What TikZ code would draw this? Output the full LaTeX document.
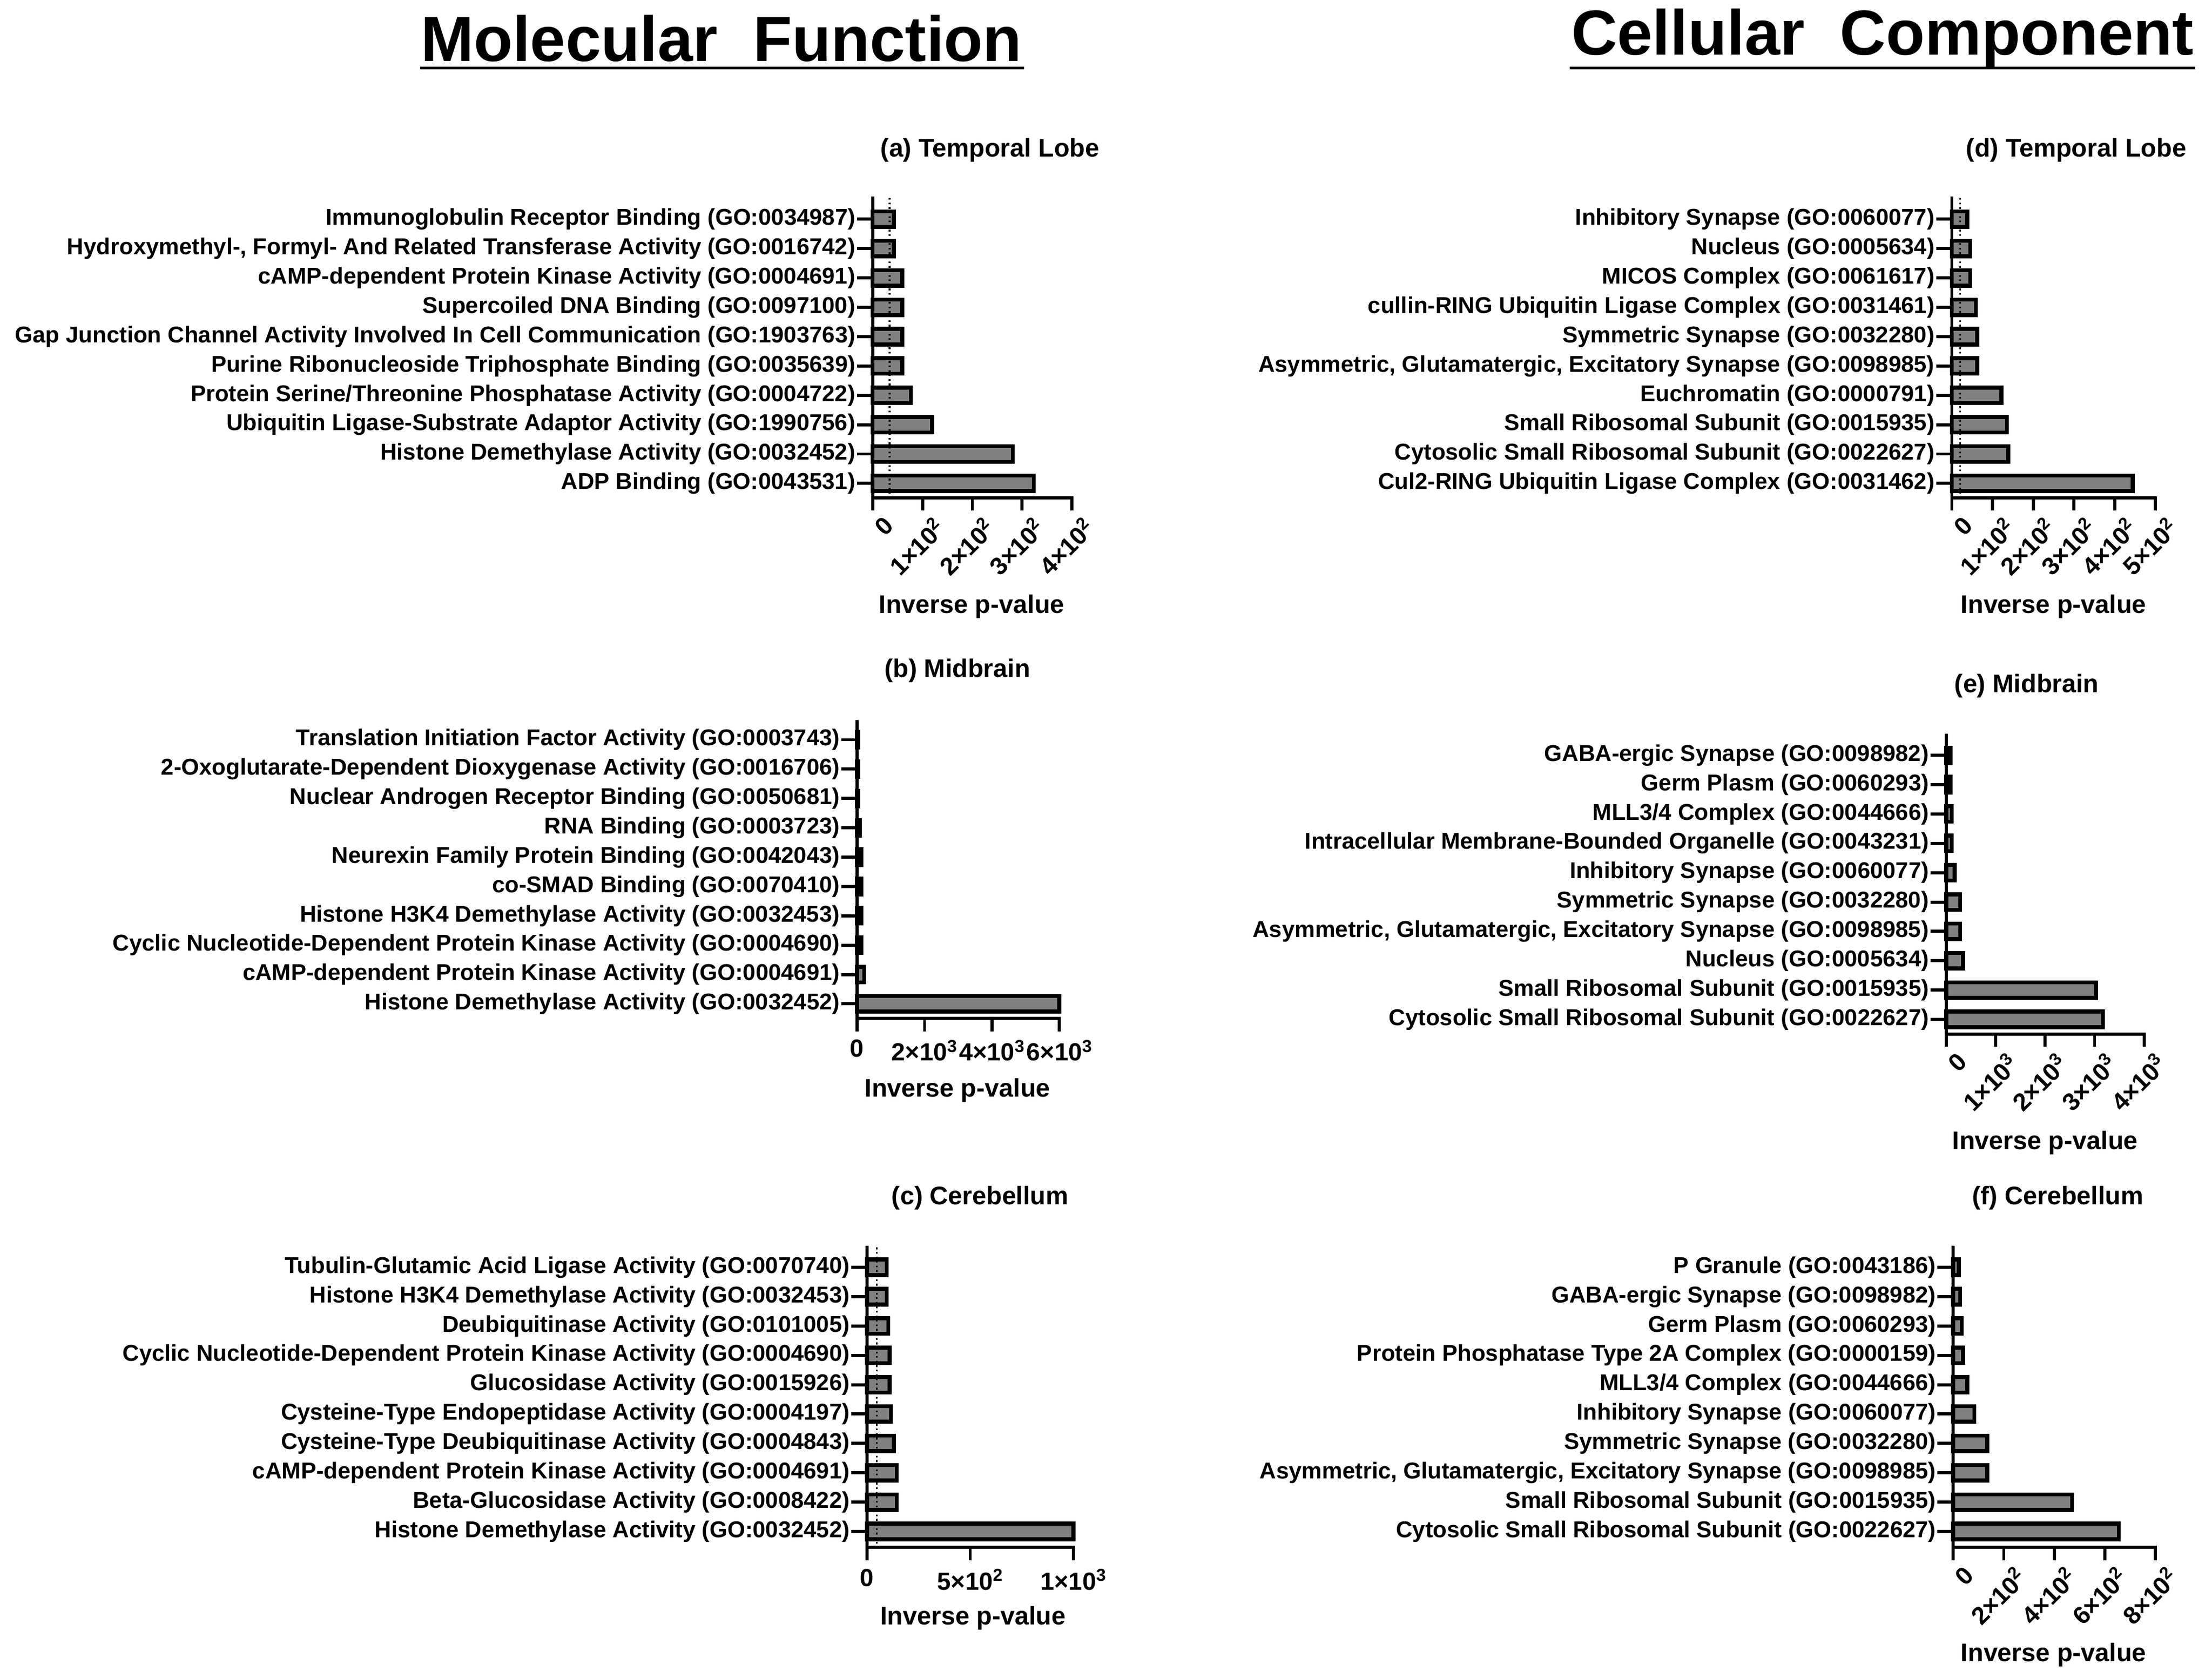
\documentclass[tikz,border=0pt]{standalone}
\usepackage{fontspec}
\setmainfont{Liberation Sans}
\begin{document}
\begin{tikzpicture}[x=1pt,y=-1pt,
 bar/.style={draw=black,line width=2.8pt,fill=black!50},
 ax/.style={line width=2.2pt,line cap=rect},
 lab/.style={font=\bfseries\fontsize{16.2}{18}\selectfont,anchor=east,inner sep=0pt},
 tl/.style={font=\bfseries\fontsize{17.5}{18}\selectfont,inner sep=0pt},
 ttl/.style={font=\bfseries\fontsize{18}{19}\selectfont,inner sep=0pt},
 big/.style={font=\bfseries\fontsize{45}{48}\selectfont,inner sep=0pt}]
\useasboundingbox (0,0) rectangle (1564,1186);
\newcommand\hbars[4]{%
 \foreach \e/\t [count=\i from 0] in {#4} {
   \pgfmathsetmacro\yy{#3+20.75*\i}
   \draw[bar] (#2,\yy-5.5) rectangle (\e,\yy+5.5);
   \draw[ax] (#2-10,\yy) -- (#2,\yy);
   \node[lab] (#1-l\i) at (#2-12,\yy) {\t};
 }}
\newcommand\xax[7]{%
 \foreach \t [count=\i from 0] in {#6} {\pgfmathsetmacro\xl{#2+#3*\i}\xdef\xlast{\xl}
   \draw[ax] (\xl,#4) -- (\xl,#4+8);
   \ifnum#7=1
    \node[tl,rotate=45,anchor=north east] (#1-t\i) at (\xl+7,#4+12) {\t};
   \else
    \node[tl,anchor=north] (#1-t\i) at (\xl,#4+15) {\t};
   \fi}
 \draw[ax] (#2,#5) -- (#2,#4+8);
 \draw[ax] (#2,#4) -- (\xlast,#4);}
\newcommand\ee[1]{\texttimes10\textsuperscript{#1}}
\node[big] (mf) at (510,27) {Molecular\ \ Function};
\draw[line width=2pt] (297,48) -- (724,48);
\node[big] (cc) at (1331,27) {Cellular\ \ Component};
\draw[line width=2pt] (1110,48) -- (1552,48);
% (a)
\node[ttl] (ta) at (700,106) {(a) Temporal Lobe};
\hbars{a}{617}{155}{632/{Immunoglobulin Receptor Binding (GO:0034987)},632/{Hydroxymethyl-, Formyl- And Related Transferase Activity (GO:0016742)},638/{cAMP-dependent Protein Kinase Activity (GO:0004691)},638/{Supercoiled DNA Binding (GO:0097100)},638/{Gap Junction Channel Activity Involved In Cell Communication (GO:1903763)},638/{Purine Ribonucleoside Triphosphate Binding (GO:0035639)},644/{Protein Serine/Threonine Phosphatase Activity (GO:0004722)},659/{Ubiquitin Ligase-Substrate Adaptor Activity (GO:1990756)},716/{Histone Demethylase Activity (GO:0032452)},731/{ADP Binding (GO:0043531)}}
\draw[dotted,line width=1.2pt] (629,140) -- (629,352);
\xax{a}{617}{35.25}{352}{140}{0,1\ee2,2\ee2,3\ee2,4\ee2}{1}
\node[ttl] (xa) at (687,429) {Inverse p-value};
% (b)
\node[ttl] (tb) at (677,474) {(b) Midbrain};
\hbars{b}{606}{523}{607/{Translation Initiation Factor Activity (GO:0003743)},607/{2-Oxoglutarate-Dependent Dioxygenase Activity (GO:0016706)},607/{Nuclear Androgen Receptor Binding (GO:0050681)},608/{RNA Binding (GO:0003723)},609/{Neurexin Family Protein Binding (GO:0042043)},609/{co-SMAD Binding (GO:0070410)},609/{Histone H3K4 Demethylase Activity (GO:0032453)},609/{Cyclic Nucleotide-Dependent Protein Kinase Activity (GO:0004690)},611/{cAMP-dependent Protein Kinase Activity (GO:0004691)},749/{Histone Demethylase Activity (GO:0032452)}}
\xax{b}{606}{47.7}{720}{510}{0,2\ee3,4\ee3,6\ee3}{0}
\node[ttl] (xb) at (677,771) {Inverse p-value};
% (c)
\node[ttl] (tc) at (693,847) {(c) Cerebellum};
\hbars{c}{613}{896}{627/{Tubulin-Glutamic Acid Ligase Activity (GO:0070740)},627/{Histone H3K4 Demethylase Activity (GO:0032453)},628/{Deubiquitinase Activity (GO:0101005)},629/{Cyclic Nucleotide-Dependent Protein Kinase Activity (GO:0004690)},629/{Glucosidase Activity (GO:0015926)},630/{Cysteine-Type Endopeptidase Activity (GO:0004197)},632/{Cysteine-Type Deubiquitinase Activity (GO:0004843)},634/{cAMP-dependent Protein Kinase Activity (GO:0004691)},634/{Beta-Glucosidase Activity (GO:0008422)},759/{Histone Demethylase Activity (GO:0032452)}}
\draw[dotted,line width=1.2pt] (620,882) -- (620,1094);
\xax{c}{613}{73}{1094}{882}{0,5\ee2,1\ee3}{0}
\node[ttl] (xc) at (688,1144) {Inverse p-value};
% (d)
\node[ttl] (td) at (1468,106) {(d) Temporal Lobe};
\hbars{d}{1380}{155}{1391/{Inhibitory Synapse (GO:0060077)},1393/{Nucleus (GO:0005634)},1393/{MICOS Complex (GO:0061617)},1397/{cullin-RING Ubiquitin Ligase Complex (GO:0031461)},1398/{Symmetric Synapse (GO:0032280)},1398/{Asymmetric, Glutamatergic, Excitatory Synapse (GO:0098985)},1415/{Euchromatin (GO:0000791)},1419/{Small Ribosomal Subunit (GO:0015935)},1420/{Cytosolic Small Ribosomal Subunit (GO:0022627)},1508/{Cul2-RING Ubiquitin Ligase Complex (GO:0031462)}}
\draw[dotted,line width=1.2pt] (1386,140) -- (1386,352);
\xax{d}{1380}{28.8}{352}{140}{0,1\ee2,2\ee2,3\ee2,4\ee2,5\ee2}{1}
\node[ttl] (xd) at (1452,429) {Inverse p-value};
% (e)
\node[ttl] (te) at (1433,485) {(e) Midbrain};
\hbars{e}{1376}{534}{1379/{GABA-ergic Synapse (GO:0098982)},1379/{Germ Plasm (GO:0060293)},1380/{MLL3/4 Complex (GO:0044666)},1380/{Intracellular Membrane-Bounded Organelle (GO:0043231)},1382/{Inhibitory Synapse (GO:0060077)},1386/{Symmetric Synapse (GO:0032280)},1386/{Asymmetric, Glutamatergic, Excitatory Synapse (GO:0098985)},1388/{Nucleus (GO:0005634)},1482/{Small Ribosomal Subunit (GO:0015935)},1487/{Cytosolic Small Ribosomal Subunit (GO:0022627)}}
\xax{e}{1376}{35}{731}{520}{0,1\ee3,2\ee3,3\ee3,4\ee3}{1}
\node[ttl] (xe) at (1446,808) {Inverse p-value};
% (f)
\node[ttl] (tf) at (1455,847) {(f) Cerebellum};
\hbars{f}{1381}{896}{1385/{P Granule (GO:0043186)},1386/{GABA-ergic Synapse (GO:0098982)},1387/{Germ Plasm (GO:0060293)},1388/{Protein Phosphatase Type 2A Complex (GO:0000159)},1391/{MLL3/4 Complex (GO:0044666)},1396/{Inhibitory Synapse (GO:0060077)},1405/{Symmetric Synapse (GO:0032280)},1405/{Asymmetric, Glutamatergic, Excitatory Synapse (GO:0098985)},1465/{Small Ribosomal Subunit (GO:0015935)},1498/{Cytosolic Small Ribosomal Subunit (GO:0022627)}}
\xax{f}{1381}{35.75}{1094}{882}{0,2\ee2,4\ee2,6\ee2,8\ee2}{1}
\node[ttl] (xf) at (1452,1170) {Inverse p-value};
\end{tikzpicture}
\end{document}
